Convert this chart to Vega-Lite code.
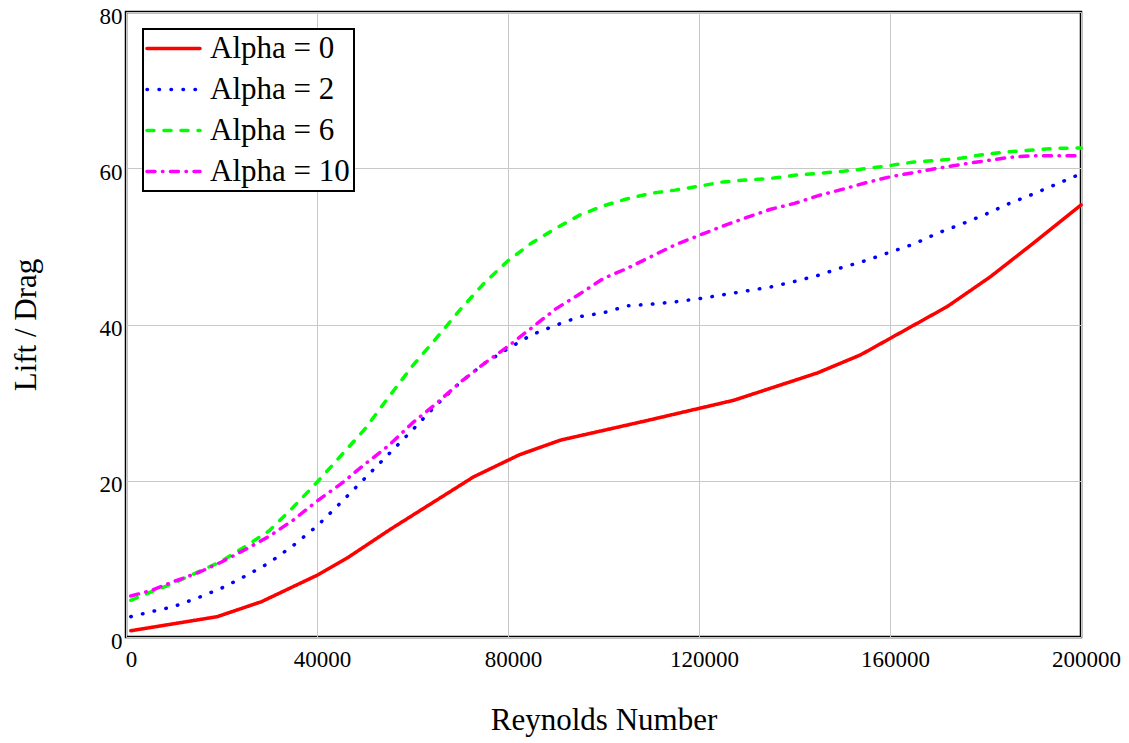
{
  "$schema": "https://vega.github.io/schema/vega-lite/v6.json",
  "autosize": {"type": "none"},
  "padding": {"left": 126, "top": 12, "right": 48, "bottom": 106},
  "width": 955,
  "height": 625,
  "background": "white",
  "data": {
    "values": [
      {"series": "Alpha = 0", "re": 1000, "ld": 0.8},
      {"series": "Alpha = 0", "re": 19100, "ld": 2.6},
      {"series": "Alpha = 0", "re": 28300, "ld": 4.5},
      {"series": "Alpha = 0", "re": 40000, "ld": 7.9},
      {"series": "Alpha = 0", "re": 46300, "ld": 10.1},
      {"series": "Alpha = 0", "re": 55400, "ld": 13.8},
      {"series": "Alpha = 0", "re": 72800, "ld": 20.5},
      {"series": "Alpha = 0", "re": 82300, "ld": 23.3},
      {"series": "Alpha = 0", "re": 91000, "ld": 25.2},
      {"series": "Alpha = 0", "re": 109100, "ld": 27.7},
      {"series": "Alpha = 0", "re": 127300, "ld": 30.3},
      {"series": "Alpha = 0", "re": 144800, "ld": 33.8},
      {"series": "Alpha = 0", "re": 153800, "ld": 36.1},
      {"series": "Alpha = 0", "re": 172000, "ld": 42.3},
      {"series": "Alpha = 0", "re": 181000, "ld": 46.1},
      {"series": "Alpha = 0", "re": 190000, "ld": 50.4},
      {"series": "Alpha = 0", "re": 200000, "ld": 55.3},

      {"series": "Alpha = 2", "re": 1000, "ld": 2.6},
      {"series": "Alpha = 2", "re": 5000, "ld": 3.2},
      {"series": "Alpha = 2", "re": 10000, "ld": 3.9},
      {"series": "Alpha = 2", "re": 15000, "ld": 5.0},
      {"series": "Alpha = 2", "re": 20000, "ld": 6.25},
      {"series": "Alpha = 2", "re": 25000, "ld": 7.8},
      {"series": "Alpha = 2", "re": 30000, "ld": 9.5},
      {"series": "Alpha = 2", "re": 35000, "ld": 11.7},
      {"series": "Alpha = 2", "re": 40000, "ld": 14.2},
      {"series": "Alpha = 2", "re": 45000, "ld": 17.2},
      {"series": "Alpha = 2", "re": 50000, "ld": 20.3},
      {"series": "Alpha = 2", "re": 55000, "ld": 23.4},
      {"series": "Alpha = 2", "re": 60000, "ld": 26.5},
      {"series": "Alpha = 2", "re": 65000, "ld": 29.7},
      {"series": "Alpha = 2", "re": 70000, "ld": 32.6},
      {"series": "Alpha = 2", "re": 75000, "ld": 35.0},
      {"series": "Alpha = 2", "re": 80000, "ld": 36.9},
      {"series": "Alpha = 2", "re": 85000, "ld": 38.7},
      {"series": "Alpha = 2", "re": 90000, "ld": 39.9},
      {"series": "Alpha = 2", "re": 95000, "ld": 41.0},
      {"series": "Alpha = 2", "re": 100000, "ld": 41.5},
      {"series": "Alpha = 2", "re": 105000, "ld": 42.4},
      {"series": "Alpha = 2", "re": 110000, "ld": 42.6},
      {"series": "Alpha = 2", "re": 115000, "ld": 42.9},
      {"series": "Alpha = 2", "re": 120000, "ld": 43.3},
      {"series": "Alpha = 2", "re": 125000, "ld": 43.8},
      {"series": "Alpha = 2", "re": 130000, "ld": 44.3},
      {"series": "Alpha = 2", "re": 135000, "ld": 44.8},
      {"series": "Alpha = 2", "re": 140000, "ld": 45.5},
      {"series": "Alpha = 2", "re": 145000, "ld": 46.3},
      {"series": "Alpha = 2", "re": 150000, "ld": 47.3},
      {"series": "Alpha = 2", "re": 155000, "ld": 48.2},
      {"series": "Alpha = 2", "re": 160000, "ld": 49.25},
      {"series": "Alpha = 2", "re": 165000, "ld": 50.3},
      {"series": "Alpha = 2", "re": 170000, "ld": 51.7},
      {"series": "Alpha = 2", "re": 175000, "ld": 52.85},
      {"series": "Alpha = 2", "re": 180000, "ld": 54.1},
      {"series": "Alpha = 2", "re": 185000, "ld": 55.5},
      {"series": "Alpha = 2", "re": 190000, "ld": 56.7},
      {"series": "Alpha = 2", "re": 195000, "ld": 58.0},
      {"series": "Alpha = 2", "re": 200000, "ld": 59.3},

      {"series": "Alpha = 6", "re": 1000, "ld": 4.7},
      {"series": "Alpha = 6", "re": 5000, "ld": 5.7},
      {"series": "Alpha = 6", "re": 10000, "ld": 6.9},
      {"series": "Alpha = 6", "re": 15000, "ld": 8.3},
      {"series": "Alpha = 6", "re": 20000, "ld": 9.7},
      {"series": "Alpha = 6", "re": 25000, "ld": 11.6},
      {"series": "Alpha = 6", "re": 30000, "ld": 13.6},
      {"series": "Alpha = 6", "re": 35000, "ld": 16.6},
      {"series": "Alpha = 6", "re": 40000, "ld": 19.8},
      {"series": "Alpha = 6", "re": 45000, "ld": 23.2},
      {"series": "Alpha = 6", "re": 50000, "ld": 26.6},
      {"series": "Alpha = 6", "re": 55000, "ld": 30.7},
      {"series": "Alpha = 6", "re": 60000, "ld": 34.7},
      {"series": "Alpha = 6", "re": 65000, "ld": 38.25},
      {"series": "Alpha = 6", "re": 70000, "ld": 41.9},
      {"series": "Alpha = 6", "re": 75000, "ld": 45.3},
      {"series": "Alpha = 6", "re": 80000, "ld": 48.15},
      {"series": "Alpha = 6", "re": 85000, "ld": 50.45},
      {"series": "Alpha = 6", "re": 90000, "ld": 52.3},
      {"series": "Alpha = 6", "re": 95000, "ld": 54.0},
      {"series": "Alpha = 6", "re": 100000, "ld": 55.2},
      {"series": "Alpha = 6", "re": 105000, "ld": 56.1},
      {"series": "Alpha = 6", "re": 110000, "ld": 56.8},
      {"series": "Alpha = 6", "re": 115000, "ld": 57.2},
      {"series": "Alpha = 6", "re": 120000, "ld": 57.7},
      {"series": "Alpha = 6", "re": 125000, "ld": 58.25},
      {"series": "Alpha = 6", "re": 130000, "ld": 58.5},
      {"series": "Alpha = 6", "re": 135000, "ld": 58.7},
      {"series": "Alpha = 6", "re": 140000, "ld": 59.1},
      {"series": "Alpha = 6", "re": 145000, "ld": 59.35},
      {"series": "Alpha = 6", "re": 150000, "ld": 59.6},
      {"series": "Alpha = 6", "re": 155000, "ld": 59.95},
      {"series": "Alpha = 6", "re": 160000, "ld": 60.35},
      {"series": "Alpha = 6", "re": 165000, "ld": 60.8},
      {"series": "Alpha = 6", "re": 170000, "ld": 61.0},
      {"series": "Alpha = 6", "re": 175000, "ld": 61.3},
      {"series": "Alpha = 6", "re": 180000, "ld": 61.8},
      {"series": "Alpha = 6", "re": 185000, "ld": 62.1},
      {"series": "Alpha = 6", "re": 190000, "ld": 62.35},
      {"series": "Alpha = 6", "re": 195000, "ld": 62.55},
      {"series": "Alpha = 6", "re": 200000, "ld": 62.6},

      {"series": "Alpha = 10", "re": 1000, "ld": 5.25},
      {"series": "Alpha = 10", "re": 5000, "ld": 5.9},
      {"series": "Alpha = 10", "re": 10000, "ld": 7.1},
      {"series": "Alpha = 10", "re": 15000, "ld": 8.2},
      {"series": "Alpha = 10", "re": 20000, "ld": 9.6},
      {"series": "Alpha = 10", "re": 25000, "ld": 11.2},
      {"series": "Alpha = 10", "re": 30000, "ld": 12.9},
      {"series": "Alpha = 10", "re": 35000, "ld": 14.95},
      {"series": "Alpha = 10", "re": 40000, "ld": 17.4},
      {"series": "Alpha = 10", "re": 45000, "ld": 19.6},
      {"series": "Alpha = 10", "re": 50000, "ld": 22.1},
      {"series": "Alpha = 10", "re": 55000, "ld": 24.5},
      {"series": "Alpha = 10", "re": 60000, "ld": 27.4},
      {"series": "Alpha = 10", "re": 65000, "ld": 29.9},
      {"series": "Alpha = 10", "re": 70000, "ld": 32.6},
      {"series": "Alpha = 10", "re": 75000, "ld": 35.0},
      {"series": "Alpha = 10", "re": 80000, "ld": 37.2},
      {"series": "Alpha = 10", "re": 85000, "ld": 39.6},
      {"series": "Alpha = 10", "re": 90000, "ld": 42.0},
      {"series": "Alpha = 10", "re": 95000, "ld": 43.9},
      {"series": "Alpha = 10", "re": 100000, "ld": 45.9},
      {"series": "Alpha = 10", "re": 105000, "ld": 47.2},
      {"series": "Alpha = 10", "re": 110000, "ld": 48.7},
      {"series": "Alpha = 10", "re": 115000, "ld": 50.2},
      {"series": "Alpha = 10", "re": 120000, "ld": 51.4},
      {"series": "Alpha = 10", "re": 125000, "ld": 52.6},
      {"series": "Alpha = 10", "re": 130000, "ld": 53.7},
      {"series": "Alpha = 10", "re": 135000, "ld": 54.75},
      {"series": "Alpha = 10", "re": 140000, "ld": 55.5},
      {"series": "Alpha = 10", "re": 145000, "ld": 56.5},
      {"series": "Alpha = 10", "re": 150000, "ld": 57.3},
      {"series": "Alpha = 10", "re": 155000, "ld": 58.15},
      {"series": "Alpha = 10", "re": 160000, "ld": 58.9},
      {"series": "Alpha = 10", "re": 165000, "ld": 59.45},
      {"series": "Alpha = 10", "re": 170000, "ld": 60.0},
      {"series": "Alpha = 10", "re": 175000, "ld": 60.5},
      {"series": "Alpha = 10", "re": 180000, "ld": 60.95},
      {"series": "Alpha = 10", "re": 185000, "ld": 61.4},
      {"series": "Alpha = 10", "re": 190000, "ld": 61.6},
      {"series": "Alpha = 10", "re": 195000, "ld": 61.6},
      {"series": "Alpha = 10", "re": 200000, "ld": 61.6}
    ]
  },
  "mark": {"type": "line", "strokeWidth": 3.5, "strokeCap": "round", "strokeJoin": "round"},
  "encoding": {
    "x": {
      "field": "re",
      "type": "quantitative",
      "title": "Reynolds Number",
      "scale": {"domain": [0, 200000], "nice": false, "zero": true},
      "axis": {
        "values": [0, 40000, 80000, 120000, 160000, 200000],
        "format": "d",
        "labelPadding": 11,
        "labelOffset": 5,
        "titlePadding": 34
      }
    },
    "y": {
      "field": "ld",
      "type": "quantitative",
      "title": "Lift / Drag",
      "scale": {"domain": [0, 80], "nice": false},
      "axis": {
        "values": [0, 20, 40, 60, 80],
        "labelPadding": 4,
        "labelOffset": 4,
        "titlePadding": 57
      }
    },
    "color": {
      "field": "series",
      "type": "nominal",
      "sort": ["Alpha = 0", "Alpha = 2", "Alpha = 6", "Alpha = 10"],
      "scale": {
        "domain": ["Alpha = 0", "Alpha = 2", "Alpha = 6", "Alpha = 10"],
        "range": ["#ff0000", "#0000ff", "#00ff00", "#ff00ff"]
      },
      "legend": {
        "title": null,
        "orient": "none",
        "legendX": 17,
        "legendY": 17,
        "symbolType": "M-1.15,0H2.78",
        "symbolSize": 729,
        "symbolStrokeWidth": 3.5,
        "labelOffset": 32,
        "rowPadding": 9,
        "padding": 4,
        "encode": {"symbols": {"update": {"strokeCap": {"value": "round"}}}}
      }
    },
    "strokeDash": {
      "field": "series",
      "type": "nominal",
      "sort": ["Alpha = 0", "Alpha = 2", "Alpha = 6", "Alpha = 10"],
      "scale": {
        "domain": ["Alpha = 0", "Alpha = 2", "Alpha = 6", "Alpha = 10"],
        "range": [[1, 0], [0.5, 11.5], [7, 10], [8, 7.5, 0.5, 7.5]]
      },
      "legend": {
        "title": null,
        "orient": "none",
        "legendX": 17,
        "legendY": 17,
        "symbolType": "M-1.15,0H2.78",
        "symbolSize": 729,
        "symbolStrokeWidth": 3.5,
        "labelOffset": 32,
        "rowPadding": 9,
        "padding": 4,
        "encode": {"symbols": {"update": {"strokeCap": {"value": "round"}}}}
      }
    }
  },
  "config": {
    "font": "Liberation Serif",
    "view": {"stroke": "black", "strokeWidth": 2.5},
    "axis": {
      "domain": false,
      "ticks": false,
      "tickSize": 0,
      "grid": true,
      "gridColor": "#c8c8c8",
      "gridWidth": 1,
      "gridOpacity": 1,
      "labelFont": "Liberation Serif",
      "labelFontSize": 23,
      "labelColor": "black",
      "labelFlush": false,
      "labelOverlap": false,
      "titleFont": "Liberation Serif",
      "titleFontSize": 31,
      "titleFontWeight": "normal",
      "titleColor": "black"
    },
    "legend": {
      "labelFont": "Liberation Serif",
      "labelFontSize": 31,
      "labelColor": "black",
      "labelLimit": 0,
      "strokeColor": "black",
      "strokeWidth": 2,
      "fillColor": "white",
      "cornerRadius": 0
    }
  }
}
